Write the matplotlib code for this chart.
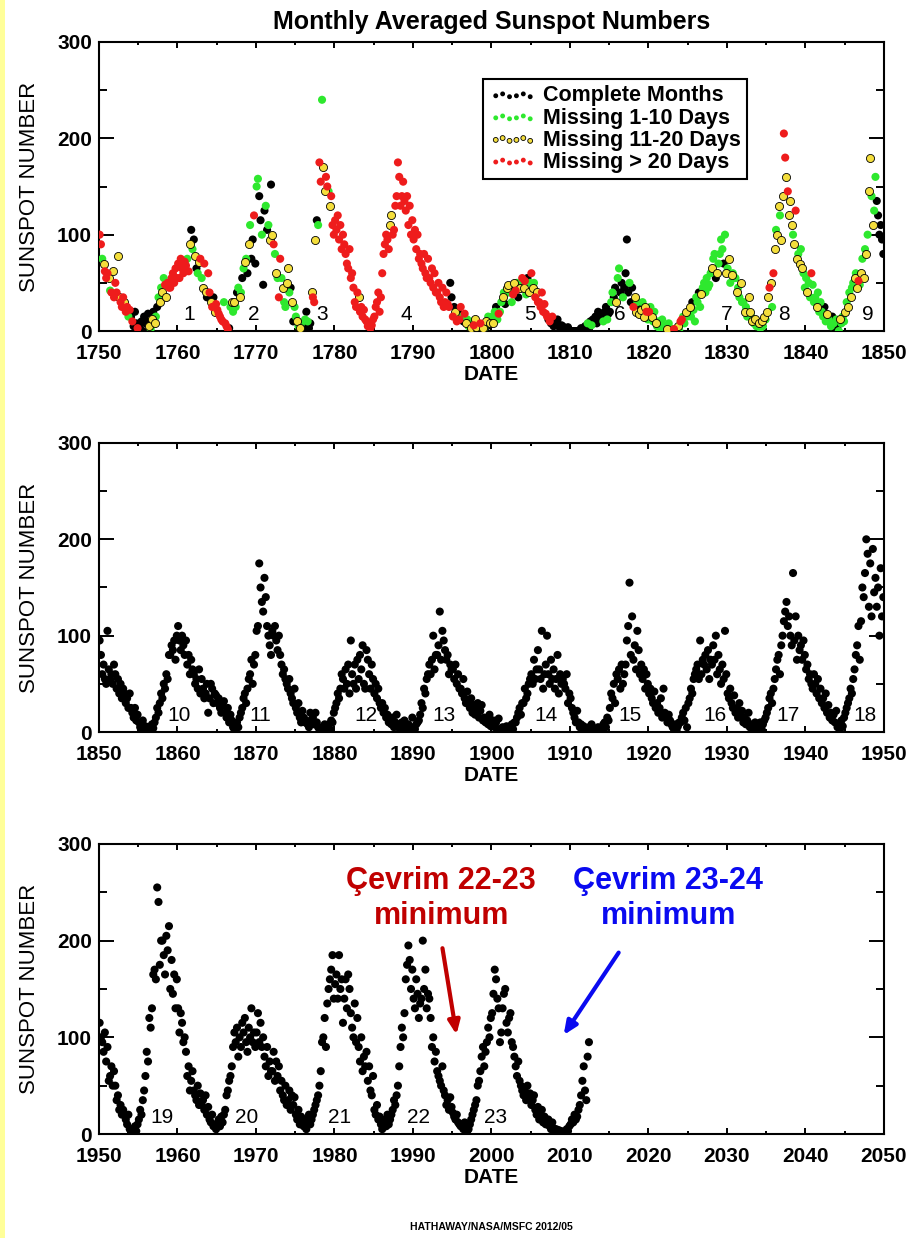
import numpy as np
import matplotlib.pyplot as plt
from matplotlib.ticker import MultipleLocator
from matplotlib.patches import Rectangle

plt.rcParams['font.family'] = ['Liberation Sans', 'DejaVu Sans']

# sunspot numbers, six readings per year (bimonthly)
ssn_1750 = [
    [100, 90, 75, 70, 62, 55], [60, 55, 42, 40, 62, 35], [50, 40, 78, 35, 30, 25],
    [35, 30, 20, 25, 15, 22], [15, 10, 5, 20, 8, 3], [5, 2, 10, 0, 15, 8],
    [10, 18, 5, 2, 12, 20], [8, 15, 25, 35, 30, 45], [40, 55, 48, 35, 50, 45],
    [45, 55, 60, 50, 65, 55], [70, 55, 75, 65, 60, 72], [68, 75, 62, 90, 105, 85],
    [95, 78, 65, 60, 72, 75], [55, 45, 70, 40, 35, 60], [40, 30, 25, 35, 20, 28],
    [22, 18, 15, 12, 10, 30], [8, 5, 2, 3, 25, 30], [20, 30, 25, 40, 45, 35],
    [40, 55, 65, 72, 75, 60], [90, 110, 75, 95, 120, 70], [150, 158, 140, 115, 100, 48],
    [125, 130, 105, 110, 95, 152], [100, 90, 80, 60, 55, 35], [75, 55, 45, 30, 25, 50],
    [65, 40, 45, 30, 10, 25], [15, 10, 5, 3, 8, 2], [5, 12, 20, 10, 3, 8],
    [40, 35, 30, 95, 115, 110], [175, 155, 240, 170, 145, 160], [150, 145, 130, 140, 110, 100],
    [115, 105, 120, 95, 110, 85], [100, 90, 80, 70, 65, 85], [55, 60, 45, 30, 25, 40],
    [35, 20, 25, 15, 22, 12], [10, 5, 8, 3, 6, 12], [15, 25, 30, 40, 20, 35],
    [60, 80, 90, 100, 95, 85], [110, 120, 100, 105, 130, 140], [175, 160, 130, 140, 155, 135],
    [125, 140, 110, 130, 100, 115], [95, 105, 85, 100, 75, 80], [70, 65, 80, 60, 55, 75],
    [55, 50, 65, 45, 60, 40], [40, 50, 35, 30, 45, 25], [30, 40, 28, 25, 50, 35],
    [15, 25, 20, 10, 20, 12], [25, 15, 10, 18, 8, 12], [5, 8, 3, 10, 6, 12],
    [4, 2, 5, 8, 0, 3], [3, 10, 5, 15, 8, 12], [15, 8, 20, 25, 12, 18],
    [20, 30, 35, 40, 28, 45], [48, 40, 45, 30, 38, 50], [42, 50, 35, 45, 48, 55],
    [45, 52, 38, 55, 40, 50], [60, 45, 50, 35, 40, 30], [30, 25, 40, 20, 28, 18],
    [15, 12, 10, 8, 15, 5], [10, 8, 12, 5, 3, 6], [5, 3, 2, 0, 4, 1],
    [0, 0, 0, 0, 0, 0], [0, 1, 3, 0, 2, 5], [5, 8, 2, 10, 6, 12],
    [10, 15, 8, 20, 12, 18], [15, 10, 20, 25, 12, 18], [20, 30, 40, 35, 45, 30],
    [55, 65, 40, 50, 35, 45], [60, 95, 40, 50, 30, 45], [25, 35, 20, 30, 18, 25],
    [22, 30, 15, 25, 20, 12], [20, 25, 15, 10, 20, 8], [5, 10, 3, 8, 12, 2],
    [0, 5, 2, 8, 3, 0], [0, 2, 0, 3, 5, 1], [10, 12, 15, 8, 20, 15],
    [20, 25, 15, 30, 22, 10], [35, 30, 40, 25, 38, 45], [50, 40, 55, 45, 48, 60],
    [65, 75, 80, 55, 60, 70], [80, 95, 85, 70, 100, 60], [65, 75, 50, 58, 60, 55],
    [55, 40, 45, 35, 50, 30], [30, 20, 25, 15, 35, 20], [15, 10, 8, 12, 5, 10],
    [8, 3, 10, 5, 15, 12], [20, 35, 45, 50, 25, 60], [85, 105, 100, 130, 120, 95],
    [140, 205, 180, 160, 145, 120], [135, 110, 100, 90, 125, 75], [80, 70, 85, 65, 60, 45],
    [55, 40, 50, 35, 60, 48], [30, 35, 25, 40, 20, 30], [20, 15, 25, 10, 18, 12],
    [10, 5, 15, 8, 3, 12], [5, 0, 12, 8, 15, 10], [20, 30, 25, 40, 35, 45],
    [50, 55, 60, 45, 52, 48], [60, 75, 55, 85, 80, 100], [145, 180, 140, 110, 125, 160],
    [135, 120, 100, 110, 95, 80],
]
# k complete, g missing 1-10 days, y missing 11-20 days, r missing > 20 days
flag_1750 = [
    "rrgyrr", "rygryr", "rryyrr", "ryrrgr", "krkkkr", "kkkkkk", "kkygyk", "ygkgyg",
    "ygryrr", "rrrrrr", "rrrrrr", "rgrykg", "kykgyr", "gyrykr", "ryrkyr", "rrrrrg",
    "rrrkgy", "gygkgy", "gkgygk", "ygkkrk", "ggkkgk", "kgkgyk", "yrgygr", "rgyggy",
    "ygkykg", "gygygk", "kgkgkk", "yrrykg", "rrgyyr", "rgyrrr", "rrrrrr", "rrrrrr",
    "rrrrrr", "yrrrrr", "rrrrrr", "rrrrrr", "rrrrrr", "yyrrrr", "rrrrrr", "rrrrrr",
    "rrrrrr", "rrrrrr", "rrrrrr", "rrrrrr", "rrrrkk", "rkyrkr", "rgkryg", "gkygry",
    "ygkrgy", "gykgyg", "gygkgr", "ggygky", "ygkgry", "rgkygr", "yrgkyg", "rygryr",
    "rrrrrr", "rkrkrk", "kkkkkk", "kkkkkk", "kkkkkk", "kkkkkk", "kgkkgk", "kkkkkk",
    "kgkkgk", "kggkky", "ggkkgk", "kkkgkk", "ryygyk", "ygyyrg", "rgyggy", "gggggg",
    "ggyggg", "grggyg", "rrggyg", "gygkgg", "ggkgyg", "gggggg", "yggkyg", "gggkgy",
    "gygygg", "gyggyg", "gyggyy", "gygygk", "ygygyg", "yyrygr", "ygyygy", "yrryry",
    "yygyry", "gygygg", "gyggrg", "ggyggg", "ggkgyg", "kgkgkg", "kgyggg", "ygygyg",
    "gygyrg", "ygygyg", "yygygg", "kkkkkk",
]
ssn_1850 = [
    [95, 80, 60, 70, 55, 50], [105, 65, 55, 60, 50, 70], [60, 45, 55, 40, 50, 35],
    [45, 40, 30, 35, 25, 40], [25, 20, 15, 25, 12, 18], [10, 5, 8, 12, 3, 6],
    [2, 0, 5, 3, 8, 4], [10, 15, 25, 20, 30, 40], [35, 50, 45, 60, 55, 80],
    [80, 90, 85, 95, 75, 100], [110, 95, 85, 100, 90, 80], [95, 70, 80, 60, 75, 65],
    [60, 50, 55, 45, 65, 40], [55, 45, 35, 40, 50, 20], [35, 50, 45, 30, 40, 38],
    [30, 35, 25, 20, 28, 32], [20, 15, 25, 10, 18, 12], [5, 3, 8, 10, 5, 15],
    [20, 25, 35, 40, 30, 45], [55, 60, 75, 50, 70, 80], [105, 110, 175, 150, 135, 125],
    [160, 140, 110, 100, 90, 80], [105, 100, 110, 95, 85, 100], [80, 70, 60, 65, 55, 50],
    [45, 55, 40, 35, 30, 45], [25, 20, 30, 15, 10, 22], [15, 10, 12, 8, 5, 20],
    [12, 15, 8, 20, 10, 5], [3, 0, 5, 2, 8, 4], [5, 8, 3, 12, 10, 20],
    [25, 30, 40, 35, 45, 60], [55, 45, 65, 50, 70, 40], [95, 60, 50, 70, 45, 75],
    [55, 80, 65, 90, 50, 45], [85, 75, 60, 45, 70, 55], [40, 50, 35, 45, 30, 25],
    [30, 20, 25, 15, 18, 10], [12, 8, 15, 5, 10, 18], [5, 8, 3, 10, 6, 12],
    [2, 5, 8, 3, 0, 15], [5, 3, 8, 10, 12, 18], [30, 25, 45, 40, 55, 60],
    [70, 60, 75, 100, 65, 80], [80, 90, 125, 75, 105, 95], [85, 75, 80, 60, 70, 65],
    [65, 55, 70, 50, 60, 45], [45, 40, 55, 35, 30, 42], [30, 25, 35, 20, 28, 18],
    [25, 30, 15, 22, 28, 12], [15, 10, 12, 8, 18, 6], [8, 12, 5, 10, 3, 14],
    [3, 0, 5, 2, 0, 6], [2, 5, 0, 8, 3, 10], [10, 15, 20, 25, 18, 30],
    [30, 45, 35, 40, 50, 55], [60, 50, 75, 55, 65, 85], [65, 55, 105, 45, 60, 70],
    [100, 60, 50, 75, 55, 65], [45, 55, 80, 40, 60, 50], [55, 50, 45, 60, 30, 40],
    [35, 25, 20, 15, 10, 22], [10, 5, 8, 3, 6, 2], [3, 0, 5, 2, 8, 4],
    [0, 3, 1, 5, 2, 0], [3, 8, 10, 5, 15, 12], [25, 40, 35, 50, 30, 60],
    [55, 65, 45, 70, 50, 60], [70, 95, 110, 155, 80, 120], [75, 90, 65, 105, 85, 60],
    [70, 55, 65, 45, 60, 50], [40, 45, 35, 30, 42, 25], [30, 20, 25, 35, 15, 45],
    [20, 15, 10, 18, 12, 8], [5, 3, 8, 2, 6, 10], [10, 15, 20, 12, 25, 5],
    [30, 35, 45, 40, 55, 60], [65, 70, 55, 95, 60, 75], [70, 80, 65, 85, 55, 75],
    [70, 90, 75, 100, 60, 80], [65, 50, 70, 55, 105, 60], [40, 35, 45, 30, 25, 38],
    [20, 25, 15, 30, 18, 22], [10, 15, 8, 12, 20, 5], [5, 8, 3, 10, 2, 6],
    [5, 10, 3, 8, 12, 15], [20, 25, 35, 40, 30, 45], [55, 65, 75, 80, 60, 90],
    [100, 115, 125, 135, 110, 120], [100, 90, 165, 95, 120, 75], [100, 85, 90, 75, 95, 80],
    [65, 70, 55, 60, 50, 45], [60, 50, 40, 55, 35, 45], [30, 35, 25, 40, 20, 28],
    [15, 20, 12, 18, 10, 22], [5, 8, 3, 12, 6, 15], [20, 25, 30, 35, 45, 40],
    [55, 65, 80, 90, 110, 75], [115, 150, 140, 165, 200, 185], [130, 175, 120, 190, 145, 160],
    [130, 150, 100, 170, 120, 140],
]
ssn_1950 = [
    [115, 100, 95, 85, 105, 75], [90, 55, 60, 70, 50, 65], [50, 35, 40, 25, 30, 20],
    [25, 20, 15, 10, 20, 5], [2, 0, 5, 8, 3, 10], [15, 25, 20, 35, 45, 60],
    [85, 75, 120, 110, 130, 165], [170, 160, 255, 240, 175, 200], [200, 185, 165, 205, 190, 215],
    [150, 180, 145, 165, 130, 160], [130, 105, 125, 115, 95, 100], [85, 60, 70, 45, 55, 65],
    [45, 40, 35, 50, 30, 42], [30, 35, 25, 40, 20, 28], [15, 12, 20, 8, 10, 5],
    [10, 15, 8, 18, 12, 20], [25, 40, 45, 55, 60, 70], [90, 105, 95, 110, 80, 100],
    [90, 115, 105, 120, 95, 85], [110, 100, 130, 95, 105, 90], [105, 125, 95, 115, 90, 100],
    [80, 70, 90, 60, 75, 65], [65, 85, 55, 75, 60, 70], [45, 55, 40, 35, 50, 30],
    [35, 45, 25, 40, 30, 38], [20, 15, 25, 10, 18, 12], [8, 15, 5, 12, 20, 10],
    [15, 20, 25, 30, 35, 40], [50, 65, 95, 100, 120, 90], [135, 150, 160, 170, 185, 140],
    [155, 165, 140, 185, 150, 160], [115, 140, 160, 130, 165, 150], [125, 110, 100, 135, 95, 120],
    [90, 75, 100, 65, 80, 70], [85, 55, 70, 45, 40, 60], [25, 20, 30, 15, 18, 10],
    [5, 12, 15, 8, 20, 10], [15, 20, 25, 35, 30, 40], [50, 70, 90, 110, 100, 125],
    [160, 175, 195, 180, 150, 170], [140, 130, 160, 145, 120, 135], [140, 200, 150, 170, 130, 145],
    [140, 120, 90, 100, 75, 85], [65, 60, 55, 50, 70, 45], [40, 30, 35, 25, 38, 28],
    [22, 18, 15, 20, 12, 10], [8, 10, 5, 12, 7, 3], [5, 10, 15, 20, 25, 30],
    [35, 50, 55, 65, 80, 90], [70, 85, 95, 110, 100, 120], [125, 145, 170, 160, 140, 130],
    [95, 105, 130, 145, 150, 115], [105, 120, 125, 95, 90, 80], [70, 60, 75, 55, 50, 45],
    [40, 45, 35, 50, 38, 42], [30, 35, 40, 25, 20, 28], [15, 20, 25, 12, 18, 10],
    [10, 15, 8, 5, 12, 6], [3, 5, 2, 4, 1, 3], [2, 0, 1, 5, 3, 8],
    [10, 15, 12, 20, 15, 18], [25, 30, 40, 55, 70, 45], [35, 80, 95],
]

cycles_1750 = [1, 2, 3, 4, 5, 6, 7, 8, 9]
cycle_yr_1750 = [1761.5, 1769.7, 1778.4, 1789.1, 1804.9, 1816.4, 1830.0, 1837.3, 1848.0]
cycles_1850 = [10, 11, 12, 13, 14, 15, 16, 17, 18]
cycle_yr_1850 = [1860.2, 1870.6, 1884.0, 1893.9, 1907.0, 1917.6, 1928.5, 1937.8, 1947.6]
cycles_1950 = [19, 20, 21, 22, 23]
cycle_yr_1950 = [1958.0, 1968.8, 1980.7, 1990.7, 2000.5]

flag_names = {'k': 'Complete Months', 'g': 'Missing 1-10 Days',
              'y': 'Missing 11-20 Days', 'r': 'Missing > 20 Days'}
flag_colors = {'k': 'black', 'g': '#2ee82e', 'y': '#f4de3c', 'r': '#ee1c1c'}


def times(rows, start):
    t = []
    for j, row in enumerate(rows):
        for i in range(len(row)):
            t.append(start + j + (i + 0.5) / 6)
    return np.array(t)


def setup(ax, start, cyc, cyc_yr):
    ax.set_xlim(start, start + 100)
    ax.set_ylim(0, 300)
    ax.set_xticks(range(start, start + 101, 10))
    ax.xaxis.set_minor_locator(MultipleLocator(5))
    ax.set_yticks([0, 100, 200, 300])
    ax.yaxis.set_minor_locator(MultipleLocator(50))
    ax.tick_params(which='both', direction='in', top=True, right=True, width=1.4)
    ax.tick_params(axis='x', which='major', length=4.5, pad=9, labelsize=15)
    ax.tick_params(axis='x', which='minor', length=2.5)
    ax.tick_params(axis='y', which='major', length=11, pad=5, labelsize=15)
    ax.tick_params(axis='y', which='minor', length=6)
    for lab in ax.get_xticklabels() + ax.get_yticklabels():
        lab.set_fontweight('bold')
    for s in ax.spines.values():
        s.set_linewidth(1.5)
    ax.set_xlabel('DATE', fontsize=15, fontweight='bold', labelpad=2)
    ax.set_ylabel('SUNSPOT NUMBER', fontsize=16, labelpad=12)
    for n, x in zip(cyc, cyc_yr):
        ax.text(x, 17, str(n), ha='center', va='center', fontsize=15)


fig = plt.figure(figsize=(9.13, 12.38), dpi=100)
fig.patches.append(Rectangle((0, 0), 5 / 913, 1, transform=fig.transFigure,
                             facecolor='#ffff99', edgecolor='none', zorder=-1))

ax1 = fig.add_axes([0.1084, 0.7326, 0.8598, 0.2335])
ax2 = fig.add_axes([0.1084, 0.4087, 0.8598, 0.2335])
ax3 = fig.add_axes([0.1084, 0.0840, 0.8598, 0.2343])

dot = 34

# top panel, coloured by data completeness
t1 = times(ssn_1750, 1750)
v1 = np.concatenate([np.array(r, float) for r in ssn_1750])
f1 = np.array(list("".join(flag_1750)))
for k in ['k', 'g', 'y', 'r']:
    m = f1 == k
    ax1.scatter(t1[m], v1[m], s=dot, c=flag_colors[k],
                edgecolors='black' if k == 'y' else 'none', linewidths=0.6,
                label=flag_names[k], zorder=3)
setup(ax1, 1750, cycles_1750, cycle_yr_1750)
ax1.set_title('Monthly Averaged Sunspot Numbers', fontsize=18, fontweight='bold', pad=9)
leg = ax1.legend(loc='upper left', bbox_to_anchor=(0.489, 0.872), borderaxespad=0,
                 scatterpoints=6, markerscale=0.6, handlelength=2.2, handletextpad=0.3,
                 labelspacing=0.05, borderpad=0.3, fancybox=False, framealpha=1,
                 edgecolor='black', prop={'size': 15.5, 'weight': 'bold'})
leg.get_frame().set_linewidth(1.5)

t2 = times(ssn_1850, 1850)
v2 = np.concatenate([np.array(r, float) for r in ssn_1850])
ax2.scatter(t2, v2, s=dot, c='black', edgecolors='none', zorder=3)
setup(ax2, 1850, cycles_1850, cycle_yr_1850)

t3 = times(ssn_1950, 1950)
v3 = np.concatenate([np.array(r, float) for r in ssn_1950])
ax3.scatter(t3, v3, s=dot, c='black', edgecolors='none', zorder=3)
setup(ax3, 1950, cycles_1950, cycle_yr_1950)

ax3.text(1993.6, 243.6, 'Çevrim 22-23\nminimum', color='#c00000', fontsize=22,
         fontweight='bold', ha='center', va='center', multialignment='center')
ax3.text(2022.5, 243.6, 'Çevrim 23-24\nminimum', color='#0a0af0', fontsize=22,
         fontweight='bold', ha='center', va='center', multialignment='center')
ax3.annotate('', xy=(1995.6, 100), xytext=(1993.7, 195),
             arrowprops=dict(arrowstyle='-|>,head_length=0.8,head_width=0.35',
                             color='#c00000', lw=3))
ax3.annotate('', xy=(2009.0, 100), xytext=(2016.4, 190),
             arrowprops=dict(arrowstyle='-|>,head_length=0.8,head_width=0.35',
                             color='#0a0af0', lw=3))

fig.text(0.5383, 1 - 1227 / 1238, 'HATHAWAY/NASA/MSFC 2012/05', ha='center', va='center',
         fontsize=7.5, fontweight='bold')

fig.savefig('out.png', dpi=100)
